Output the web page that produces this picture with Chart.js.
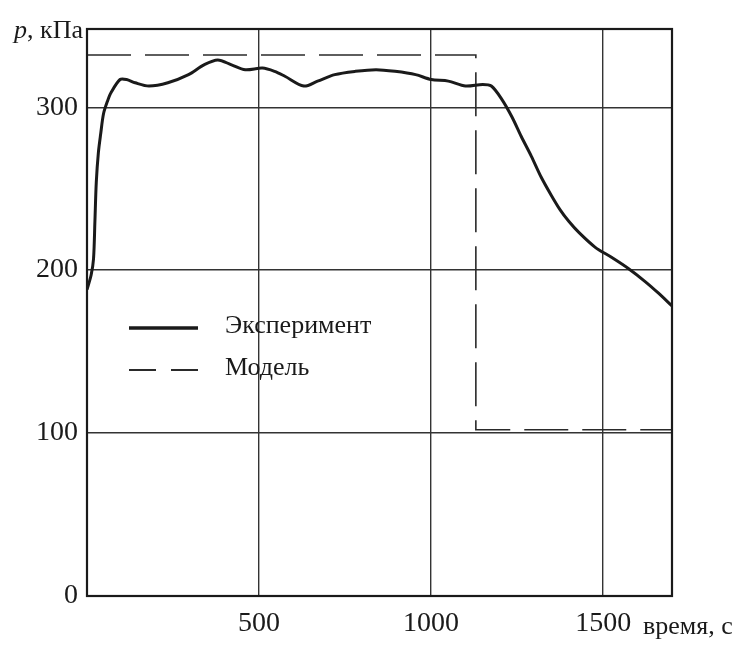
<!DOCTYPE html>
<html>
<head>
<meta charset="utf-8">
<script src="https://cdn.jsdelivr.net/npm/chart.js@4.4.1/dist/chart.umd.min.js"></script>
<style>
  html, body { margin: 0; padding: 0; background: #fff; }
  canvas { display: block; }
</style>
</head>
<body>
<canvas id="pressureChart" width="741" height="651"></canvas>
<script>
const expTime = [
  0, 12, 19, 23, 27, 33, 40, 48, 60, 70, 96, 115, 140, 180, 235, 295, 340,
  380, 420, 460, 510, 545, 575, 630, 670, 720, 780, 840, 895, 955, 1000,
  1050, 1100, 1150, 1175, 1205, 1235, 1262, 1291, 1320, 1349, 1375, 1400,
  1430, 1477, 1523, 1573, 1622, 1660, 1700,
];
const expPressure = [
  188, 197, 207, 230, 254, 272, 284, 296, 304, 309, 317, 317, 315, 313, 315,
  320, 326, 329, 326, 323, 324, 322, 319, 313, 316, 320, 322, 323, 322, 320,
  317, 316, 313, 314, 313, 305, 294, 282, 270, 257, 246, 237, 230, 223, 214,
  208, 201, 193, 186, 178,
];

// model step
const modelTime = [0, 1130, 1130, 1700];
const modelPressure = [332, 332, 102, 102];

const xTickValues = [500, 1000, 1500];
const yTickValues = [0, 100, 200, 300];
const xMax = 1700;
const yMax = 348;

const serif = '"Liberation Serif", "Times New Roman", serif';
const ink = "#1a1a1a";

function toPoints(xs, ys) {
  return xs.map((x, i) => ({ x: x, y: ys[i] }));
}

// frame, legend inside the plot and the two axis captions
const decorations = {
  id: "decorations",
  afterDraw(chart) {
    const { ctx, chartArea } = chart;
    ctx.save();

    ctx.strokeStyle = ink;
    ctx.lineWidth = 2.2;
    ctx.strokeRect(
      chartArea.left,
      chartArea.top,
      chartArea.right - chartArea.left,
      chartArea.bottom - chartArea.top
    );

    const rows = [chartArea.top + 299, chartArea.top + 341];
    const sx = chartArea.left + 42;
    chart.data.datasets.forEach((ds, i) => {
      const y = rows[i];
      ctx.strokeStyle = ds.borderColor;
      ctx.lineWidth = ds.legendWidth;
      ctx.setLineDash(ds.legendDash);
      ctx.beginPath();
      ctx.moveTo(sx, y);
      ctx.lineTo(sx + 69, y);
      ctx.stroke();
      ctx.setLineDash([]);
      ctx.fillStyle = ink;
      ctx.font = "26px " + serif;
      ctx.textAlign = "left";
      ctx.textBaseline = "middle";
      ctx.fillText(ds.label, chartArea.left + 138, y - 2);
    });

    // y caption: italic p, then units
    ctx.textBaseline = "middle";
    ctx.font = "26px " + serif;
    const rest = ", кПа";
    const restW = ctx.measureText(rest).width;
    ctx.font = "italic 26px " + serif;
    const pW = ctx.measureText("p").width;
    const right = chartArea.left - 4;
    ctx.fillText("p", right - restW - pW, chartArea.top + 2);
    ctx.font = "26px " + serif;
    ctx.fillText(rest, right - restW, chartArea.top + 2);

    // x caption next to the last tick label
    ctx.textBaseline = "alphabetic";
    ctx.fillText("время, с", chartArea.right - 29, chartArea.bottom + 38);

    ctx.restore();
  },
};

const ctx = document.getElementById("pressureChart").getContext("2d");

new Chart(ctx, {
  type: "line",
  data: {
    datasets: [
      {
        label: "Эксперимент",
        data: toPoints(expTime, expPressure),
        borderColor: ink,
        borderWidth: 3,
        legendWidth: 3.5,
        legendDash: [],
        pointRadius: 0,
        tension: 0.3,
        fill: false,
      },
      {
        label: "Модель",
        data: toPoints(modelTime, modelPressure),
        borderColor: "#2a2a2a",
        borderWidth: 1.6,
        borderDash: [44, 14],
        legendWidth: 2,
        legendDash: [27, 15],
        pointRadius: 0,
        tension: 0,
        fill: false,
      },
    ],
  },
  options: {
    responsive: false,
    animation: false,
    layout: { padding: { left: 0, top: 29, right: 69, bottom: 0 } },
    plugins: {
      legend: { display: false },
      tooltip: { enabled: false },
    },
    scales: {
      x: {
        type: "linear",
        min: 0,
        max: xMax,
        afterBuildTicks: (scale) => {
          scale.ticks = xTickValues.map((v) => ({ value: v }));
        },
        afterFit: (scale) => {
          scale.height = 55;
        },
        grid: { color: "#333", lineWidth: 1.4, drawTicks: false },
        border: { display: false },
        ticks: {
          padding: 11,
          color: ink,
          font: { family: serif, size: 28 },
          maxRotation: 0,
          callback: (v) => String(v),
        },
      },
      y: {
        min: 0,
        max: yMax,
        afterBuildTicks: (scale) => {
          scale.ticks = yTickValues.map((v) => ({ value: v }));
        },
        afterFit: (scale) => {
          scale.width = 87;
        },
        grid: { color: "#333", lineWidth: 1.4, drawTicks: false },
        border: { display: false },
        ticks: {
          padding: 9,
          color: ink,
          font: { family: serif, size: 28 },
          callback: (v) => String(v),
        },
      },
    },
  },
  plugins: [decorations],
});
</script>
</body>
</html>
